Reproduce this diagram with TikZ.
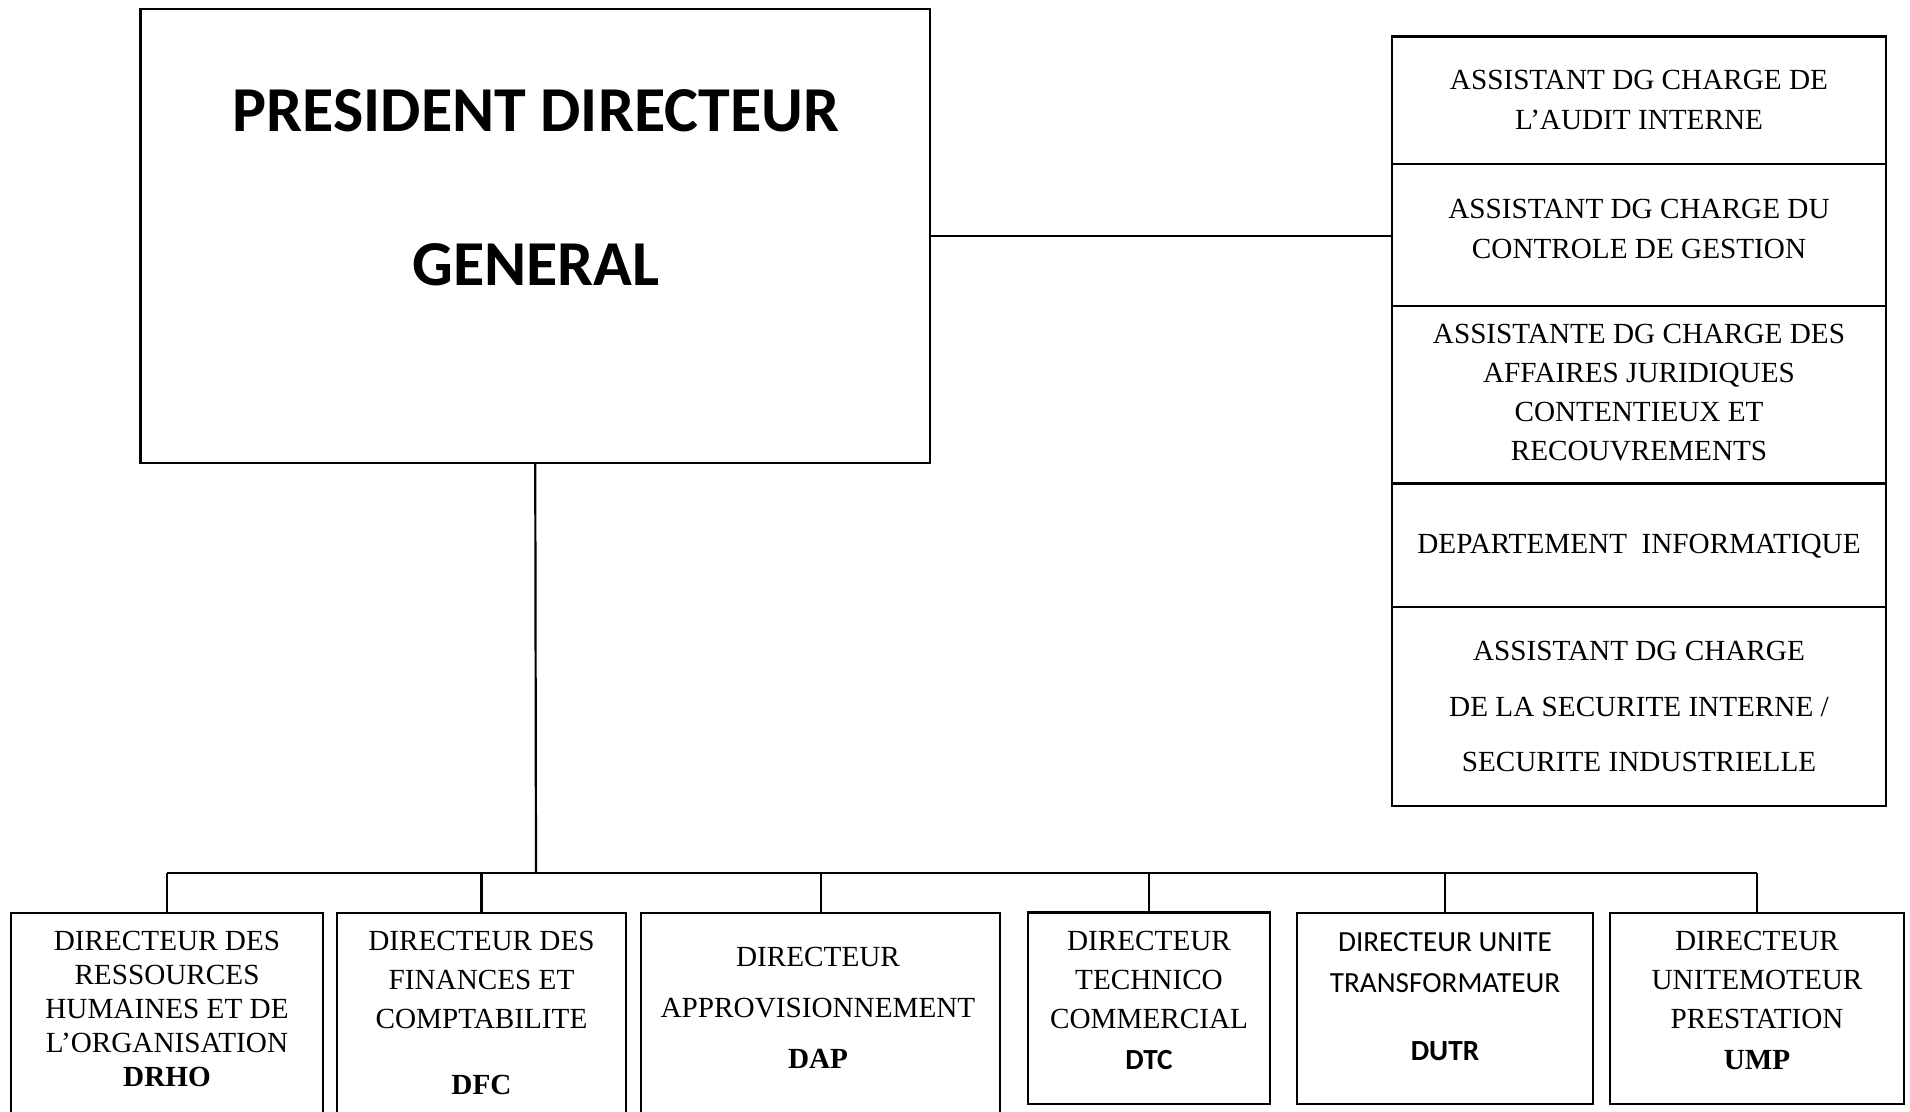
\documentclass[tikz,border=0pt]{standalone}
\usepackage{fontspec}
\setmainfont{Liberation Serif}
\newfontfamily\calibri{Carlito}
\begin{document}
\begin{tikzpicture}[x=0.5pt,y=-0.5pt,
  frame/.style={draw=black,line width=1.1pt,inner sep=0pt},
  lbl/.style={inner sep=0pt,anchor=north,align=center},
  wire/.style={draw=black,line width=1.1pt}]
\useasboundingbox (0,0) rectangle (1910,1112);
\fill[white] (0,0) rectangle (1910,1112);
\clip (0,0) rectangle (1910,1112);

% --- head of the company
\node[frame,minimum width=394.75pt,minimum height=227pt] (pdg) at (535.25,236) {};
\node[lbl,font=\calibri\bfseries\fontsize{32}{76.7}\selectfont] (pdgt) at (536,89.4)
  {PRESIDENT DIRECTEUR\\GENERAL};

% --- staff column attached to the head
\node[frame,minimum width=247pt,minimum height=63.95pt] (asA) at (1639,100.45) {};
\node[frame,minimum width=247pt,minimum height=70.65pt] (asB) at (1639,235.05) {};
\node[frame,minimum width=247pt,minimum height=88.9pt]  (asC) at (1639,394.6) {};
\node[frame,minimum width=247pt,minimum height=61.55pt] (asD) at (1639,545.05) {};
\node[frame,minimum width=247pt,minimum height=99.85pt] (asE) at (1639,706.45) {};

\node[lbl,font=\fontsize{14.6}{20.2}\selectfont] (asAt) at (1639,69.3)
  {ASSISTANT DG CHARGE DE\\L’AUDIT INTERNE};
\node[lbl,font=\fontsize{14.6}{20.1}\selectfont] (asBt) at (1639,198.6)
  {ASSISTANT DG CHARGE DU\\CONTROLE DE GESTION};
\node[lbl,font=\fontsize{14.6}{19.5}\selectfont] (asCt) at (1639,324)
  {ASSISTANTE DG CHARGE DES\\AFFAIRES JURIDIQUES\\CONTENTIEUX ET\\RECOUVREMENTS};
\node[lbl,font=\fontsize{14.6}{19.5}\selectfont] (asDt) at (1639,533.5)
  {DEPARTEMENT\ \ INFORMATIQUE};
\node[lbl,font=\fontsize{14.6}{27.8}\selectfont] (asEt) at (1639,640.7)
  {ASSISTANT DG CHARGE\\DE LA SECURITE INTERNE /\\SECURITE INDUSTRIELLE};

% --- directorates
\node[frame,minimum width=155.85pt,minimum height=113.65pt] (b1) at (166.85,1026.35) {};
\node[frame,minimum width=144.2pt,minimum height=113.65pt]  (b2) at (481.5,1026.35) {};
\node[frame,minimum width=179.35pt,minimum height=113.65pt] (b3) at (820.65,1026.35) {};
\node[frame,minimum width=121.15pt,minimum height=95.75pt]  (b4) at (1148.85,1008.25) {};
\node[frame,minimum width=147.7pt,minimum height=95.35pt]   (b5) at (1445,1008.65) {};
\node[frame,minimum width=147pt,minimum height=95.65pt]     (b6) at (1757,1008.35) {};

\node[lbl,font=\fontsize{14.6}{17.1}\selectfont] (b1t) at (167,930.3)
  {DIRECTEUR DES\\RESSOURCES\\HUMAINES ET DE\\L’ORGANISATION\\\textbf{DRHO}};
\node[lbl,font=\fontsize{14.6}{19.5}\selectfont] (b2t) at (481.5,930.3)
  {DIRECTEUR DES\\FINANCES ET\\COMPTABILITE\\[13.5pt]\textbf{DFC}};
\node[lbl,font=\fontsize{14.6}{25.5}\selectfont] (b3t) at (818,946.3)
  {DIRECTEUR\\APPROVISIONNEMENT\\\textbf{DAP}};
\node[lbl,font=\fontsize{14.6}{19.5}\selectfont] (b4t) at (1149,930.3)
  {DIRECTEUR\\TECHNICO\\COMMERCIAL\\[1.2pt]{\calibri\bfseries DTC}};
\node[lbl,font=\calibri\fontsize{14.6}{20.7}\selectfont] (b5t) at (1445,932.1)
  {DIRECTEUR UNITE\\TRANSFORMATEUR\\[13.2pt]\textbf{DUTR}};
\node[lbl,font=\fontsize{14.6}{19.5}\selectfont] (b6t) at (1757,930.3)
  {DIRECTEUR\\UNITEMOTEUR\\PRESTATION\\[1pt]\textbf{UMP}};

% --- connectors
\coordinate (bus) at (536,873);
\draw[wire] (pdg.east) -- (pdg.east -| asB.west);
\draw[wire] (pdg.south) -- (bus);
\draw[wire] (b1.north |- bus) -- (b6.north |- bus);
\foreach \b in {b1,b2,b3,b4,b5,b6}
  \draw[wire] (\b.north |- bus) -- (\b.north);
\end{tikzpicture}
\end{document}
